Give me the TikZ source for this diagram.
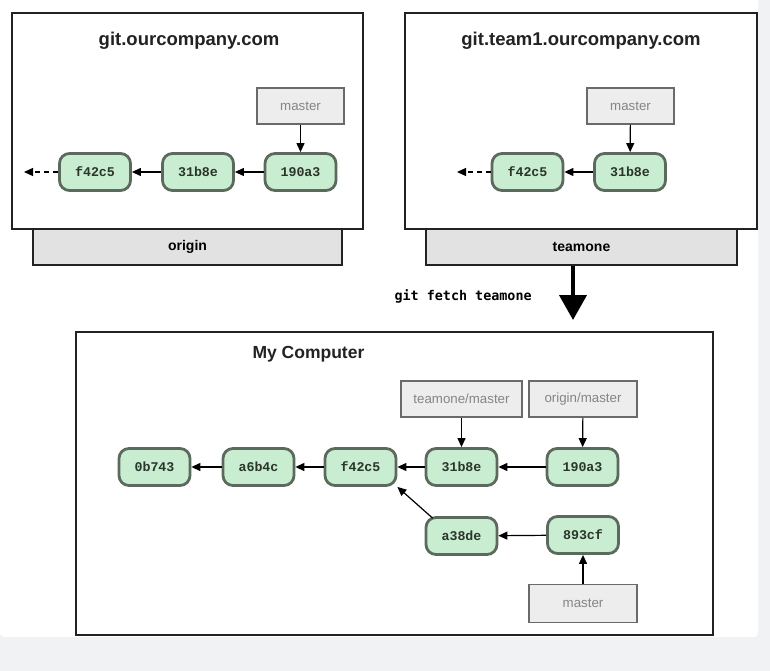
\documentclass[tikz,border=0pt]{standalone}
\usepackage{fontspec}
\setmainfont{Liberation Sans}
\setmonofont{Liberation Mono}
\newfontfamily\cmdfont{DejaVu Sans Mono}
\usepackage{xcolor}
\usetikzlibrary{arrows.meta,positioning}
\definecolor{pagebg}{HTML}{F1F2F4}
\definecolor{frame}{HTML}{222222}
\definecolor{barfill}{HTML}{E2E2E2}
\definecolor{reffill}{HTML}{EDEDED}
\definecolor{refline}{HTML}{6A6A6A}
\definecolor{reftext}{HTML}{858585}
\definecolor{cfill}{HTML}{C9EDD1}
\definecolor{cline}{HTML}{5B6A5C}
\definecolor{ctext}{HTML}{2A352B}
\tikzset{
  host/.style={draw=frame, line width=2pt, fill=white},
  bar/.style={draw=frame, line width=1.7pt, fill=barfill, font=\bfseries\fontsize{14}{16}\selectfont},
  title/.style={font=\bfseries\fontsize{17.5}{20}\selectfont, text=frame},
  commit/.style={draw=cline, line width=2.8pt, fill=cfill, rounded corners=10pt,
    minimum width=71pt, minimum height=37pt, inner sep=0pt, text=ctext,
    font=\ttfamily\bfseries\fontsize{13.3}{15}\selectfont},
  ref/.style={draw=refline, line width=1.5pt, fill=reffill, minimum height=36pt,
    inner sep=0pt, text=reftext, font=\fontsize{13.3}{15}\selectfont},
  parent/.style={-{Triangle[width=8pt,length=9pt]}, line width=1.2pt, draw=black},
  older/.style={parent, dashed, dash pattern=on 5pt off 4pt}
}
\begin{document}
\begin{tikzpicture}[x=1pt, y=-1pt]
  \useasboundingbox (0,0) rectangle (770,671);
  \fill[pagebg] (0,0) rectangle (770,671);
  \fill[white, rounded corners=4pt] (0,-5) rectangle (758,637);

  % remote servers
  \node[bar, minimum width=309pt, minimum height=36pt] (origin) at (187.5,247) {origin};
  \node[bar, minimum width=311pt, minimum height=36pt] (teamone) at (581.5,247) {teamone};
  \node[host, minimum width=351pt, minimum height=216pt] (srvA) at (187.5,121) {};
  \node[host, minimum width=352pt, minimum height=216pt] (srvB) at (581,121) {};
  \node[title, font=\bfseries\fontsize{18.5}{21}\selectfont] (titleA) at (189,41) {git.ourcompany.com};
  \node[title, font=\bfseries\fontsize{18.5}{21}\selectfont] (titleB) at (581,41) {git.team1.ourcompany.com};

  \node[commit] (a1) at (95,172) {f42c5};
  \node[commit] (a2) at (198,172) {31b8e};
  \node[commit] (a3) at (300.5,172) {190a3};
  \node[ref, minimum width=87pt] (amaster) at (300.5,106) {master};
  \coordinate (aend) at (24,172);
  \draw[parent] (a3) -- (a2);
  \draw[parent] (a2) -- (a1);
  \draw[older] (a1) -- (aend);
  \draw[parent] (amaster) -- (a3);

  \node[commit] (b1) at (527.5,172) {f42c5};
  \node[commit] (b2) at (630,172) {31b8e};
  \node[ref, minimum width=87pt] (bmaster) at (630.5,106) {master};
  \coordinate (bend) at (457,172);
  \draw[parent] (b2) -- (b1);
  \draw[older] (b1) -- (bend);
  \draw[parent] (bmaster) -- (b2);

  % fetch
  \coordinate (fetchend) at (573,320);
  \draw[line width=4pt, -{Triangle[width=27pt,length=25pt]}] (teamone.south -| fetchend) -- (fetchend);
  \node[font=\cmdfont\bfseries\fontsize{13.4}{15}\selectfont, anchor=west] (cmd) at (391,296) {git fetch teamone};

  % local repository
  \node[host, minimum width=637pt, minimum height=303pt] (local) at (394.5,483) {};
  \node[title, anchor=west] (titleC) at (249,354) {My Computer};

  \node[commit] (c1) at (154.5,467) {0b743};
  \node[commit] (c2) at (258.5,467) {a6b4c};
  \node[commit] (c3) at (360.5,467) {f42c5};
  \node[commit] (c4) at (461.5,467) {31b8e};
  \node[commit] (c5) at (582.5,467) {190a3};
  \node[commit] (c6) at (461.5,536) {a38de};
  \node[commit] (c7) at (583,535) {893cf};
  \node[ref, minimum width=121pt] (tmaster) at (461.5,399) {teamone/master};
  \node[ref, minimum width=108pt] (omaster) at (583,399) {origin/master};
  \node[ref, minimum width=108pt, minimum height=38pt] (lmaster) at (583,603.5) {master};

  \draw[parent] (c2) -- (c1);
  \draw[parent] (c3) -- (c2);
  \draw[parent] (c4) -- (c3);
  \draw[parent] (c5) -- (c4);
  \draw[parent] (c7) -- (c6);
  \draw[parent] (c6.north west) ++(8,2) coordinate (c6from) -- (c3.south east);
  \draw[parent] (tmaster) -- (c4);
  \draw[parent] (omaster) -- (c5);
  \draw[parent] (lmaster) -- (c7);
\end{tikzpicture}
\end{document}
